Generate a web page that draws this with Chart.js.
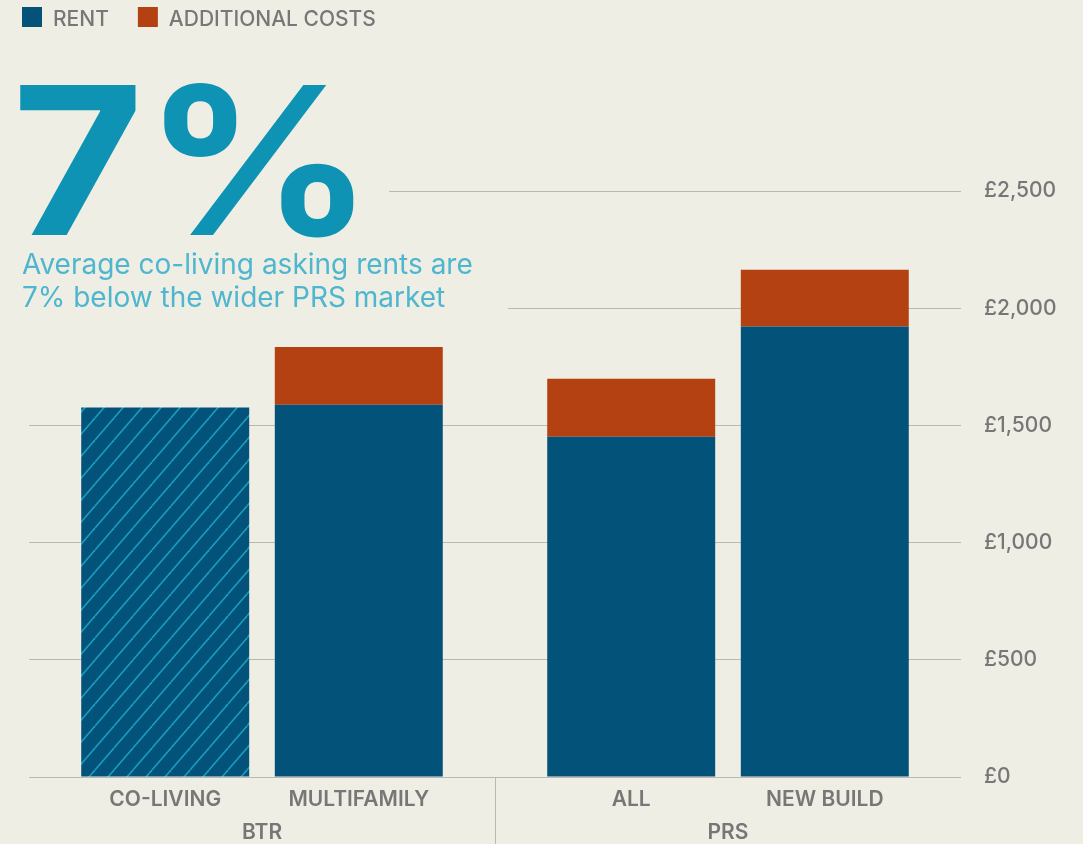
<!DOCTYPE html>
<html>
<head>
<meta charset="utf-8">
<title>Co-living asking rents</title>
<script src="https://cdn.jsdelivr.net/npm/chart.js@4.4.1/dist/chart.umd.min.js"></script>
<style>
  html, body { margin: 0; padding: 0; background: #efeee4; }
  #wrap { width: 1083px; height: 844px; position: relative; }
</style>
</head>
<body>
<div id="wrap"><canvas id="rentChart"></canvas></div>
<script>
// monthly asking rents, pounds
var categories = ['CO-LIVING', 'MULTIFAMILY', 'ALL', 'NEW BUILD'];
var groups = ['BTR', 'PRS'];
var rent = [1576, 1588, 1452, 1922];
var additionalCosts = [0, 246, 247, 242];
var seriesNames = ['RENT', 'ADDITIONAL COSTS'];
var yTicks = [0, 500, 1000, 1500, 2000, 2500];
var hatchedCategory = 'CO-LIVING';
var headline = '7%';
var subtitle = ['Average co-living asking rents are', '7% below the wider PRS market'];

var BG = '#efeee4';
var RENT_COLOR = '#02527a';
var COST_COLOR = '#b44112';
var GRID = '#b9b9b1';
var LABEL = '#777777';
var FONT = 'Inter, "DejaVu Sans", sans-serif';

function hatchPattern() {
  var w = 19, h = 22;
  var c = document.createElement('canvas');
  c.width = w;
  c.height = h;
  var g = c.getContext('2d');
  g.fillStyle = RENT_COLOR;
  g.fillRect(0, 0, w, h);
  g.strokeStyle = '#1a9cc1';
  g.lineWidth = 1.6;
  [-w, 0, w].forEach(function (dx) {
    g.beginPath();
    g.moveTo(dx, h);
    g.lineTo(dx + w, 0);
    g.stroke();
  });
  return g.createPattern(c, 'repeat');
}

var hatch = hatchPattern();
var perGroup = categories.length / groups.length;

// two stacks per group: each stack is one category, rent at the bottom
function slotIndexes(s) {
  return groups.map(function (g, gi) { return gi * perGroup + s; });
}

var datasets = [];
for (var s = 0; s < perGroup; s++) {
  var idx = slotIndexes(s);
  datasets.push({
    label: seriesNames[0],
    data: idx.map(function (i) { return rent[i]; }),
    backgroundColor: idx.map(function (i) { return categories[i] === hatchedCategory ? hatch : RENT_COLOR; }),
    stack: 'slot' + s,
    cats: idx
  });
}
for (var s2 = 0; s2 < perGroup; s2++) {
  var idx2 = slotIndexes(s2);
  datasets.push({
    label: seriesNames[1],
    data: idx2.map(function (i) { return additionalCosts[i]; }),
    backgroundColor: COST_COLOR,
    stack: 'slot' + s2,
    cats: idx2
  });
}

var legendPlugin = {
  id: 'topLegend',
  afterDraw: function (chart) {
    var ctx = chart.ctx;
    var colors = [RENT_COLOR, COST_COLOR];
    var x = 22;
    ctx.save();
    ctx.font = '500 21px ' + FONT;
    ctx.textBaseline = 'alphabetic';
    ctx.textAlign = 'left';
    seriesNames.forEach(function (name, i) {
      ctx.fillStyle = colors[i];
      ctx.fillRect(x, 7, 20, 20);
      ctx.fillStyle = LABEL;
      ctx.fillText(name, x + 31, 26);
      x += 31 + ctx.measureText(name).width + 29;
    });
    ctx.restore();
  }
};

var headlinePlugin = {
  id: 'headline',
  beforeDatasetsDraw: function (chart) {
    var ctx = chart.ctx;
    ctx.save();
    // knock the grid out behind the text block
    ctx.fillStyle = BG;
    ctx.fillRect(0, 70, 389, 178);
    ctx.fillRect(0, 248, 508, 78);
    ctx.textAlign = 'left';
    ctx.textBaseline = 'alphabetic';
    ctx.fillStyle = '#0e93b5';
    ctx.font = '700 206px ' + FONT;
    ctx.save();
    ctx.translate(12, 235);
    ctx.scale(1.1, 1);
    ctx.fillText(headline, 0, 0);
    ctx.restore();
    ctx.fillStyle = '#4eb6cf';
    ctx.font = '400 28px ' + FONT;
    ctx.fillText(subtitle[0], 22, 274);
    ctx.fillText(subtitle[1], 22, 307);
    ctx.restore();
  }
};

var categoryLabelPlugin = {
  id: 'categoryLabels',
  afterDatasetsDraw: function (chart) {
    var ctx = chart.ctx;
    ctx.save();
    ctx.font = '600 21px ' + FONT;
    ctx.fillStyle = LABEL;
    ctx.textAlign = 'center';
    ctx.textBaseline = 'middle';
    for (var d = 0; d < perGroup; d++) {
      var ds = chart.data.datasets[d];
      chart.getDatasetMeta(d).data.forEach(function (bar, j) {
        ctx.fillText(categories[ds.cats[j]], bar.x, 800);
      });
    }
    ctx.restore();
  }
};

new Chart(document.getElementById('rentChart'), {
  type: 'bar',
  data: { labels: groups, datasets: datasets },
  options: {
    responsive: true,
    maintainAspectRatio: false,
    animation: false,
    layout: { padding: { top: 191, left: 29, right: 0, bottom: 0 } },
    datasets: {
      bar: { categoryPercentage: 0.8308, barPercentage: 0.8677, borderWidth: 0 }
    },
    plugins: {
      legend: { display: false },
      tooltip: { enabled: false }
    },
    scales: {
      x: {
        stacked: true,
        border: { display: false },
        grid: {
          offset: true,
          drawOnChartArea: false,
          drawTicks: true,
          tickLength: 67,
          lineWidth: 1,
          color: function (c) { return c.type === 'tick' && c.index === 1 ? GRID : 'transparent'; }
        },
        ticks: {
          color: LABEL,
          padding: -24,
          font: { family: FONT, size: 21, weight: '600' }
        },
        afterFit: function (scale) { scale.height = 67; }
      },
      y: {
        position: 'right',
        stacked: true,
        min: 0,
        max: 2500,
        afterBuildTicks: function (scale) {
          scale.ticks = yTicks.map(function (v) { return { value: v }; });
        },
        border: { display: false },
        grid: { color: GRID, drawTicks: false, lineWidth: 1 },
        ticks: {
          color: LABEL,
          padding: 23,
          font: { family: FONT, size: 21, weight: '500' },
          callback: function (v) { return '£' + Number(v).toLocaleString('en-GB'); }
        },
        afterFit: function (scale) { scale.width = 122; }
      }
    }
  },
  plugins: [legendPlugin, headlinePlugin, categoryLabelPlugin]
});
</script>
</body>
</html>
